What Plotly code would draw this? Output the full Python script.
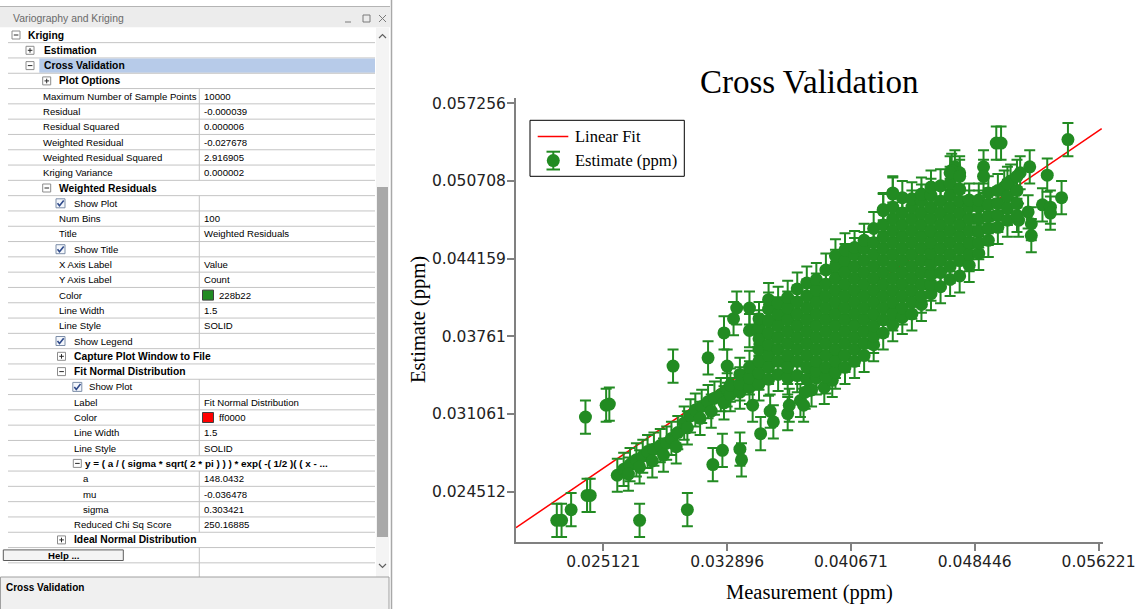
import plotly.graph_objects as go

# ---------------- cross-validation data (ppm) ----------------
# scattered / isolated samples
outlier_measurement = [0.0222, 0.0225, 0.0231, 0.0240, 0.0241, 0.0243, 0.0253, 0.0255, 0.0274, 0.0295,
                       0.0304, 0.0317, 0.0320, 0.0326, 0.0327, 0.0329, 0.0333, 0.0335, 0.0337, 0.0338,
                       0.0345, 0.0350, 0.0356, 0.0358, 0.0343, 0.0348, 0.0343, 0.0498, 0.0501, 0.0543,
                       0.0539, 0.0530, 0.0519, 0.0527, 0.0532, 0.0532, 0.0518, 0.0520, 0.0512, 0.0520,
                       0.0513, 0.0507, 0.0503, 0.0490, 0.0490, 0.0472, 0.0475, 0.0470, 0.0433, 0.0427,
                       0.0367, 0.0368, 0.0375, 0.0377, 0.0382, 0.0390, 0.0395, 0.0378]
outlier_estimate = [0.0221, 0.0221, 0.0230, 0.0308, 0.0242, 0.0242, 0.0318, 0.0319, 0.0221, 0.0351,
                    0.0230, 0.0358, 0.0268, 0.0280, 0.0379, 0.0351, 0.0391, 0.0400, 0.0281, 0.0272,
                    0.0318, 0.0294, 0.0313, 0.0304, 0.0381, 0.0381, 0.0400, 0.0539, 0.0539, 0.0542,
                    0.0493, 0.0512, 0.0519, 0.0487, 0.0485, 0.0480, 0.0481, 0.0471, 0.0474, 0.0461,
                    0.0514, 0.0507, 0.0502, 0.0519, 0.0511, 0.0519, 0.0514, 0.0516, 0.0497, 0.0483,
                    0.0311, 0.0318, 0.0322, 0.0318, 0.0331, 0.0333, 0.0339, 0.0329]

# low-concentration band running under the fit line
band_measurement = [0.0260, 0.0264, 0.0268, 0.0272, 0.0276, 0.0279, 0.0283, 0.0287, 0.0291, 0.0294,
                    0.0298, 0.0302, 0.0306, 0.0309, 0.0313, 0.0317, 0.0321, 0.0325, 0.0329,
                    0.0267, 0.0274, 0.0282, 0.0289, 0.0297, 0.0304, 0.0312, 0.0319, 0.0327]
band_estimate = [0.0259, 0.0264, 0.0268, 0.0272, 0.0275, 0.0279, 0.0281, 0.0284, 0.0286, 0.0290,
                 0.0295, 0.0303, 0.0309, 0.0314, 0.0317, 0.0321, 0.0324, 0.0327, 0.0331,
                 0.0260, 0.0266, 0.0271, 0.0276, 0.0283, 0.0299, 0.0307, 0.0313, 0.0320]

# dense core: one measurement per column, with the estimates found in that column
core_measurement = [0.0331, 0.0337, 0.0343, 0.0349, 0.0355, 0.0361, 0.0367, 0.0373, 0.0379, 0.0385,
                    0.0391, 0.0397, 0.0403, 0.0409, 0.0415, 0.0421, 0.0427, 0.0433, 0.0439, 0.0445,
                    0.0451, 0.0457, 0.0463, 0.0469, 0.0475, 0.0481, 0.0487, 0.0493, 0.0499, 0.0505,
                    0.0511]
core_estimate = [
    [0.0327, 0.0335],
    [0.0329, 0.0336, 0.0344],
    [0.0333, 0.0341, 0.0350],
    [0.0336, 0.0345, 0.0355, 0.0365, 0.0374, 0.0384, 0.0391],
    [0.0340, 0.0350, 0.0360, 0.0369, 0.0379, 0.0389, 0.0399, 0.0407],
    [0.0344, 0.0355, 0.0365, 0.0375, 0.0385, 0.0395, 0.0404],
    [0.0341, 0.0350, 0.0360, 0.0370, 0.0380, 0.0390, 0.0400, 0.0409],
    [0.0343, 0.0355, 0.0365, 0.0375, 0.0385, 0.0395, 0.0405, 0.0416],
    [0.0340, 0.0350, 0.0360, 0.0370, 0.0380, 0.0390, 0.0400, 0.0410, 0.0421],
    [0.0341, 0.0347, 0.0355, 0.0365, 0.0375, 0.0385, 0.0395, 0.0405, 0.0415, 0.0424],
    [0.0342, 0.0350, 0.0360, 0.0370, 0.0380, 0.0390, 0.0400, 0.0410, 0.0420, 0.0432],
    [0.0346, 0.0355, 0.0365, 0.0375, 0.0385, 0.0395, 0.0405, 0.0415, 0.0425, 0.0435, 0.0444],
    [0.0350, 0.0360, 0.0370, 0.0380, 0.0390, 0.0400, 0.0410, 0.0420, 0.0430, 0.0440, 0.0449],
    [0.0355, 0.0365, 0.0375, 0.0385, 0.0395, 0.0405, 0.0415, 0.0425, 0.0435, 0.0445, 0.0451],
    [0.0360, 0.0370, 0.0380, 0.0390, 0.0400, 0.0410, 0.0420, 0.0430, 0.0440, 0.0450, 0.0457],
    [0.0369, 0.0376, 0.0385, 0.0395, 0.0405, 0.0415, 0.0425, 0.0435, 0.0445, 0.0455, 0.0467],
    [0.0379, 0.0390, 0.0400, 0.0410, 0.0420, 0.0430, 0.0440, 0.0450, 0.0460, 0.0470, 0.0482],
    [0.0386, 0.0395, 0.0405, 0.0415, 0.0425, 0.0435, 0.0445, 0.0455, 0.0465, 0.0475, 0.0485, 0.0496],
    [0.0392, 0.0400, 0.0410, 0.0420, 0.0430, 0.0440, 0.0450, 0.0460, 0.0470, 0.0480, 0.0493],
    [0.0395, 0.0405, 0.0415, 0.0425, 0.0435, 0.0445, 0.0455, 0.0465, 0.0475, 0.0485, 0.0492],
    [0.0403, 0.0410, 0.0420, 0.0430, 0.0440, 0.0450, 0.0460, 0.0470, 0.0480, 0.0490, 0.0496],
    [0.0412, 0.0420, 0.0428, 0.0437, 0.0446, 0.0455, 0.0465, 0.0475, 0.0485, 0.0495, 0.0502],
    [0.0418, 0.0430, 0.0440, 0.0450, 0.0460, 0.0470, 0.0480, 0.0490, 0.0503],
    [0.0424, 0.0435, 0.0445, 0.0455, 0.0465, 0.0475, 0.0485, 0.0495, 0.0505, 0.0514],
    [0.0427, 0.0440, 0.0450, 0.0460, 0.0470, 0.0480, 0.0490, 0.0500, 0.0511],
    [0.0436, 0.0445, 0.0455, 0.0465, 0.0475, 0.0485, 0.0491],
    [0.0446, 0.0455, 0.0465, 0.0475, 0.0485, 0.0491],
    [0.0457, 0.0467, 0.0477, 0.0487, 0.0497],
    [0.0468, 0.0478, 0.0488, 0.0499],
    [0.0474, 0.0484, 0.0494, 0.0505],
    [0.0478, 0.0488, 0.0499, 0.0511],
]

estimate_error = 0.0014          # +/- kriging standard error shown as error bars
fit_slope = 0.9145               # Linear Fit: estimate = slope * measurement + intercept
fit_intercept = 0.00352
fit_end = 0.05642

x_range = [0.019638, 0.056502]
y_range = [0.020272, 0.057702]
x_tick_values = [0.025121, 0.032896, 0.040671, 0.048446, 0.056221]
x_tick_labels = ["0.025121", "0.032896", "0.040671", "0.048446", "0.056221"]
y_tick_values = [0.024512, 0.031061, 0.03761, 0.044159, 0.050708, 0.057256]
y_tick_labels = ["0.024512", "0.031061", "0.03761", "0.044159", "0.050708", "0.057256"]

# ---------------- property grid rows (kind, depth, extra, label, value) ----------------
panel_rows = [
    ("cat", 0, "-", "Kriging", None),
    ("cat", 1, "+", "Estimation", None),
    ("sel", 1, "-", "Cross Validation", None),
    ("cat", 2, "+", "Plot Options", None),
    ("prop", 2, None, "Maximum Number of Sample Points", "10000"),
    ("prop", 2, None, "Residual", "-0.000039"),
    ("prop", 2, None, "Residual Squared", "0.000006"),
    ("prop", 2, None, "Weighted Residual", "-0.027678"),
    ("prop", 2, None, "Weighted Residual Squared", "2.916905"),
    ("prop", 2, None, "Kriging Variance", "0.000002"),
    ("cat", 2, "-", "Weighted Residuals", None),
    ("check", 3, None, "Show Plot", ""),
    ("prop", 3, None, "Num Bins", "100"),
    ("prop", 3, None, "Title", "Weighted Residuals"),
    ("check", 3, None, "Show Title", ""),
    ("prop", 3, None, "X Axis Label", "Value"),
    ("prop", 3, None, "Y Axis Label", "Count"),
    ("swatch", 3, "#228b22", "Color", "228b22"),
    ("prop", 3, None, "Line Width", "1.5"),
    ("prop", 3, None, "Line Style", "SOLID"),
    ("check", 3, None, "Show Legend", ""),
    ("cat", 3, "+", "Capture Plot Window to File", None),
    ("cat", 3, "-", "Fit Normal Distribution", None),
    ("check", 4, None, "Show Plot", ""),
    ("prop", 4, None, "Label", "Fit Normal Distribution"),
    ("swatch", 4, "#ff0000", "Color", "ff0000"),
    ("prop", 4, None, "Line Width", "1.5"),
    ("prop", 4, None, "Line Style", "SOLID"),
    ("cat", 4, "-", "y = ( a / ( sigma * sqrt( 2 * pi ) ) ) * exp( -( 1/2 )( ( x - ...", None),
    ("prop", 5, None, "a", "148.0432"),
    ("prop", 5, None, "mu", "-0.036478"),
    ("prop", 5, None, "sigma", "0.303421"),
    ("prop", 4, None, "Reduced Chi Sq Score", "250.16885"),
    ("cat", 3, "+", "Ideal Normal Distribution", None),
    ("button", 0, None, "Help ...", ""),
    ("blank", 0, None, "", ""),
]

GREEN = "#228b22"
SANS = "Liberation Sans"
SERIF = "Liberation Serif"

# plot-area placement in page pixels
PLOT_L, PLOT_T, PLOT_W, PLOT_H = 516, 98, 587, 444
FIG_W, FIG_H = 1136, 609


def X(px):
    return (px - PLOT_L) / PLOT_W


def Y(py):
    return (PLOT_T + PLOT_H - py) / PLOT_H


shapes = []
annotations = []


def rect(x0, y0, x1, y1, fill=None, line=None, width=1):
    shapes.append(dict(type="rect", xref="paper", yref="paper",
                       x0=X(x0), x1=X(x1), y0=Y(y1), y1=Y(y0),
                       fillcolor=fill or "rgba(0,0,0,0)",
                       line=dict(color=line or "rgba(0,0,0,0)", width=width if line else 0)))


def seg(x0, y0, x1, y1, color, width=1):
    shapes.append(dict(type="line", xref="paper", yref="paper",
                       x0=X(x0), x1=X(x1), y0=Y(y0), y1=Y(y1),
                       line=dict(color=color, width=width)))


def poly(points, color, width=1):
    d = "M " + " L ".join(f"{X(a)},{Y(b)}" for a, b in points)
    shapes.append(dict(type="path", xref="paper", yref="paper", path=d,
                       line=dict(color=color, width=width)))


def circle(cx, cy, r, fill):
    shapes.append(dict(type="circle", xref="paper", yref="paper",
                       x0=X(cx - r), x1=X(cx + r), y0=Y(cy + r), y1=Y(cy - r),
                       fillcolor=fill, line=dict(width=0)))


def text(s, x, y, size, color="#000000", family=SANS, bold=False, anchor="left", angle=0):
    annotations.append(dict(text=f"<b>{s}</b>" if bold else s, xref="paper", yref="paper",
                            x=X(x), y=Y(y), xanchor=anchor, yanchor="middle",
                            showarrow=False, textangle=angle, borderpad=0,
                            font=dict(family=family, size=size, color=color)))


# ---------------- scatter: measurement vs estimate ----------------
measurement = list(outlier_measurement) + list(band_measurement)
estimate = list(outlier_estimate) + list(band_estimate)
for m, column in zip(core_measurement, core_estimate):
    measurement += [m] * len(column)
    estimate += column

fit_x = [x_range[0], fit_end]
fit_y = [fit_slope * v + fit_intercept for v in fit_x]

fig = go.Figure()
fig.add_trace(go.Scatter(x=fit_x, y=fit_y, mode="lines", name="Linear Fit",
                         line=dict(color="#ff0000", width=1.5), hoverinfo="skip"))
fig.add_trace(go.Scatter(x=measurement, y=estimate, mode="markers", name="Estimate (ppm)",
                         marker=dict(color=GREEN, size=13, line=dict(width=0)),
                         error_y=dict(type="constant", value=estimate_error, color=GREEN,
                                      thickness=2, width=5.5)))

# ---------------- chart text ----------------
text("Cross Validation", 809, 82, 33, "#000000", SERIF, anchor="center")
text("Measurement (ppm)", 809, 592, 20.5, "#000000", SERIF, anchor="center")
text("Estimate (ppm)", 418, 320, 20.5, "#000000", SERIF, anchor="center", angle=-90)

# legend box
rect(530, 120.3, 684.3, 176.3, fill="#ffffff", line="#000000", width=1)
seg(537.7, 136.5, 568.3, 136.5, "#ff0000", 1.5)
seg(553.3, 151.7, 553.3, 169.5, GREEN, 2)
seg(546.5, 151.7, 560, 151.7, GREEN, 2)
seg(546.5, 169.5, 560, 169.5, GREEN, 2)
circle(553.3, 160.6, 6.5, GREEN)
text("Linear Fit", 574, 136.5, 16.5, "#000000", SERIF)
text("Estimate (ppm)", 574, 160.5, 16.5, "#000000", SERIF)

# ---------------- property grid panel ----------------
PANEL_R = 375
rect(0, 7, 390, 27.3, fill="#ececec")
seg(0, 6.5, 390, 6.5, "#b4b4b4", 1)
seg(391.5, 0, 391.5, FIG_H, "#a8a8a8", 1.5)
text("Variography and Kriging", 11.5, 18.5, 10.4, "#6a6a6a")
seg(345, 22, 351, 22, "#7a7a7a", 1)
rect(363, 15, 370, 22, line="#7a7a7a", width=1)
seg(379, 15, 386, 22, "#7a7a7a", 1)
seg(379, 22, 386, 15, "#7a7a7a", 1)

# scrollbar
rect(376, 27.5, 389, 577, fill="#f4f4f4")
rect(377, 187, 388, 537, fill="#a9a9a9")
poly([(379, 38), (382.5, 34.5), (386, 38)], "#606060", 1.2)
poly([(379, 564), (382.5, 567.5), (386, 564)], "#606060", 1.2)

ROW0, ROW_H = 35.0, 15.3
CAT_ICON_X = {0: 16, 1: 30, 2: 46.7, 3: 61.5, 4: 77.3}
CAT_TEXT_X = {0: 26.5, 1: 42.5, 2: 58.3, 3: 73.3, 4: 83.5}
PROP_TEXT_X = {2: 41.7, 3: 57.7, 4: 73.3, 5: 81.7}
CHECK_X = {3: 60.5, 4: 77.3}
CHECK_TEXT_X = {3: 73.3, 4: 88.3}
DIV_X, VALUE_X = 199.3, 203
LINE_C = "#c4c4c4"

for i, (kind, depth, extra, label, value) in enumerate(panel_rows):
    cy = ROW0 + i * ROW_H
    top, bot = cy - ROW_H / 2, cy + ROW_H / 2
    if kind == "sel":
        rect(39.3, top + 0.5, PANEL_R, bot - 0.5, fill="#b7cbe9")
    seg(8, bot, PANEL_R, bot, LINE_C, 1)
    if kind in ("cat", "sel"):
        ix = CAT_ICON_X[depth]
        rect(ix - 4, cy - 4, ix + 4, cy + 4, fill="#ffffff", line="#8c8c8c", width=1)
        seg(ix - 2.2, cy, ix + 2.4, cy, "#2a2a2a", 1)
        if extra == "+":
            seg(ix, cy - 2.2, ix, cy + 2.4, "#2a2a2a", 1)
        size = 9.9 if depth == 4 else 10.3
        text(label, CAT_TEXT_X[depth], cy, size, "#000000", bold=True)
        continue
    seg(DIV_X, top, DIV_X, bot, LINE_C, 1)
    if kind in ("prop", "swatch"):
        text(label, PROP_TEXT_X[depth], cy, 9.6)
        if kind == "swatch":
            rect(202.5, cy - 5, 213.5, cy + 5, fill=extra, line="#404040", width=1)
            text(value, 218.3, cy, 9.6)
        else:
            text(value, VALUE_X, cy, 9.6)
    elif kind == "check":
        cx = CHECK_X[depth]
        rect(cx - 4.5, cy - 4.5, cx + 4.5, cy + 4.5, fill="#f4f7fc", line="#7d8ea8", width=1)
        poly([(cx - 3, cy), (cx - 1, cy + 2.5), (cx + 3.2, cy - 2.8)], "#2f4a8a", 1.6)
        text(label, CHECK_TEXT_X[depth], cy, 9.6)
    elif kind == "button":
        rect(3.3, cy - 5.3, 123.3, cy + 5.3, fill="#f4f4f4", line="#5c5c5c", width=1)
        text(label, 63, cy, 9.6, bold=True, anchor="center")

# description box
rect(0.5, 577, 389, FIG_H + 2, fill="#f0f0f0", line="#a0a0a0", width=1)
text("Cross Validation", 5, 587.5, 10, bold=True)

# ---------------- layout ----------------
axis_common = dict(showline=True, linecolor="#808080", linewidth=2,
                   ticks="outside", ticklen=7, tickwidth=1.5, tickcolor="#808080",
                   showgrid=False, zeroline=False, automargin=False,
                   tickfont=dict(family="DejaVu Sans", size=15.5, color="#222222"))

fig.update_layout(
    width=FIG_W, height=FIG_H,
    margin=dict(l=PLOT_L, r=FIG_W - PLOT_L - PLOT_W, t=PLOT_T, b=FIG_H - PLOT_T - PLOT_H, pad=0,
                autoexpand=False),
    paper_bgcolor="#ffffff", plot_bgcolor="#ffffff",
    showlegend=False,
    xaxis=dict(range=x_range, tickvals=x_tick_values, ticktext=x_tick_labels,
               ticklabelstandoff=-3, **axis_common),
    yaxis=dict(range=y_range, tickvals=y_tick_values, ticktext=y_tick_labels,
               ticklabelstandoff=-2, **axis_common),
    shapes=shapes,
    annotations=annotations,
)

fig.write_html("out.html", config={"displayModeBar": False})
